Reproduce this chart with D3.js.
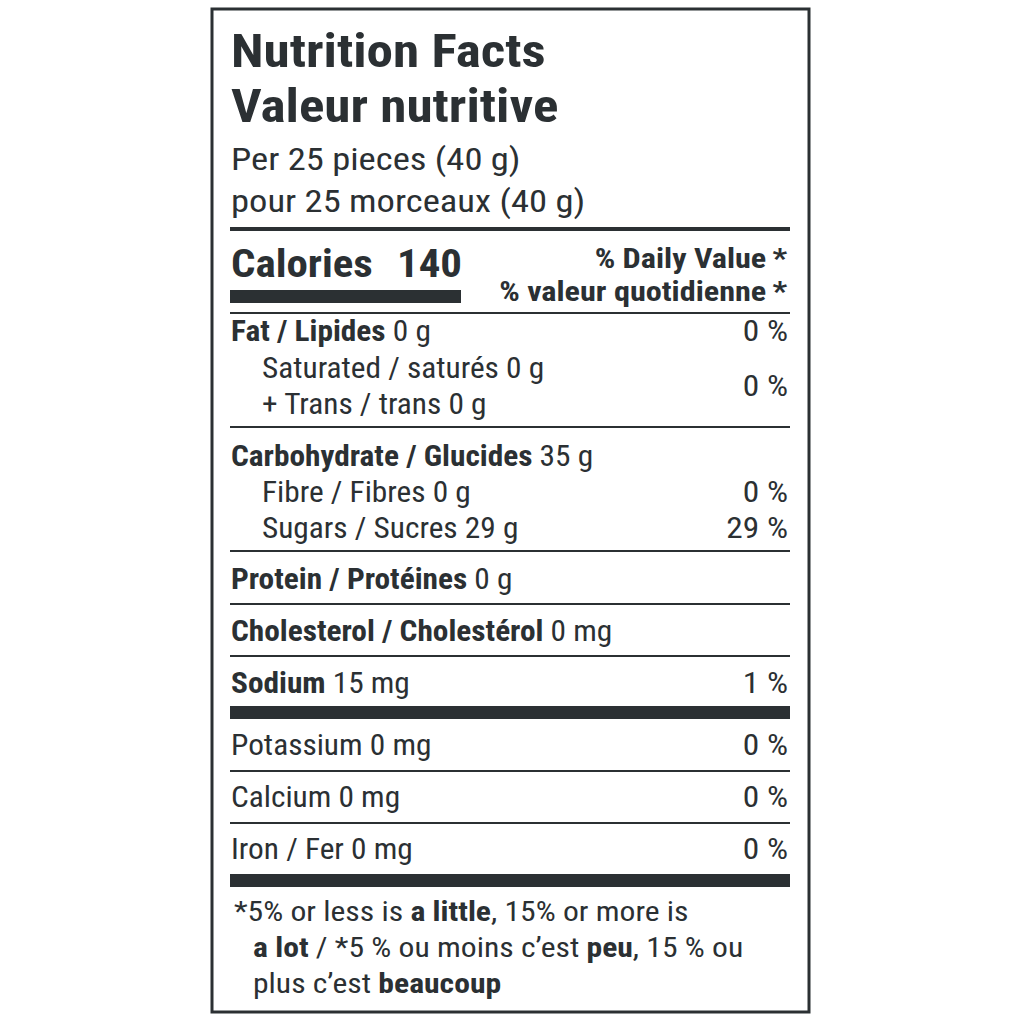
<!DOCTYPE html>
<html><head><meta charset="utf-8">
<script src="https://cdn.jsdelivr.net/npm/d3@7"></script>
<style>body{margin:0;background:#fff}svg{display:block}</style>
</head><body>
<script>
const titleLines = ["Nutrition Facts", "Valeur nutritive"];
const servingLines = ["Per 25 pieces (40 g)", "pour 25 morceaux (40 g)"];
const calories = 140;
const dvHeader = ["% Daily Value\u2009*", "% valeur quotidienne\u2009*"];
const rowBold   = ["Fat / Lipides", "", "", "Carbohydrate / Glucides", "", "", "Protein / Protéines", "Cholesterol / Cholestérol", "Sodium", "", "", ""];
const rowPlain  = [" 0 g", "Saturated / saturés 0 g", "+ Trans / trans 0 g", " 35 g", "Fibre / Fibres 0 g", "Sugars / Sucres 29 g", " 0 g", " 0 mg", " 15 mg", "Potassium 0 mg", "Calcium 0 mg", "Iron / Fer 0 mg"];
const rowIndent = [0, 1, 1, 0, 1, 1, 0, 0, 0, 0, 0, 0];
const rowDV     = ["0 %", "", "", "", "0 %", "29 %", "", "", "1 %", "0 %", "0 %", "0 %"];
const satTransDV = "0 %";
const footnote = [
  [["*5% or less is ", 0], ["a little", 1], [", 15% or more is", 0]],
  [["a lot", 1], [" / *5 % ou moins c’est ", 0], ["peu", 1], [", 15 % ou", 0]],
  [["plus c’est ", 0], ["beaucoup", 1]]
];

const C = "#2b3033";
const F = "'Liberation Sans Narrow','Roboto Condensed','Liberation Sans',sans-serif";
const svg = d3.select("body").append("svg").attr("width",1024).attr("height",1024)
  .style("font-family",F).attr("fill",C);
const L = 231, R = 789;
svg.append("rect").attr("x",212).attr("y",9).attr("width",597).attr("height",1003)
  .attr("fill","none").attr("stroke",C).attr("stroke-width",3);

function txt(x,y,s,size){
  return svg.append("text").attr("transform",`translate(${x},${y}) scale(${s},1)`).attr("font-size",size);
}
titleLines.forEach((d,i)=>txt(L,67+i*55,1.155,46).attr("font-weight","bold").text(d));
servingLines.forEach((d,i)=>txt(L,170+i*42,1.18,31).text(d));
function hline(y,h){svg.append("rect").attr("x",L-1).attr("y",y).attr("width",R-L+2).attr("height",h).attr("fill",C);}
hline(227,4);
const cal = txt(L,277,1.1,39).attr("font-weight","bold");
cal.append("tspan").text("Calories");
cal.append("tspan").attr("dx",22).text(calories);
svg.append("rect").attr("x",L-1).attr("y",290).attr("width",231).attr("height",13).attr("fill",C);
dvHeader.forEach((d,i)=>txt(R-2,268+i*33,1.15,28).attr("text-anchor","end").attr("font-weight","bold").text(d));
hline(312,2);

const ys = [341,378,414,466,502,538,589,641,693,755,807,859];
const lines = [[426,2],[550,2],[603,2],[655,2],[706,13],[770,2],[822,2],[874,13]];
rowBold.forEach((b,i)=>{
  const t = txt(L+(rowIndent[i]?31:0),ys[i],1.08,29);
  if(b) t.append("tspan").attr("font-weight","bold").text(b);
  t.append("tspan").text(rowPlain[i]);
  if(rowDV[i]) txt(R-1,ys[i],1.15,29).attr("text-anchor","end").text(rowDV[i]);
});
txt(R-1,396,1.15,29).attr("text-anchor","end").text(satTransDV);
lines.forEach(([y,h])=>hline(y,h));

footnote.forEach((parts,i)=>{
  const t = txt(i===0?L+3:L+22,921+i*36,1.13,28);
  parts.forEach(([s,b])=>t.append("tspan").attr("font-weight",b?"bold":"normal").text(s));
});
</script>
</body></html>
